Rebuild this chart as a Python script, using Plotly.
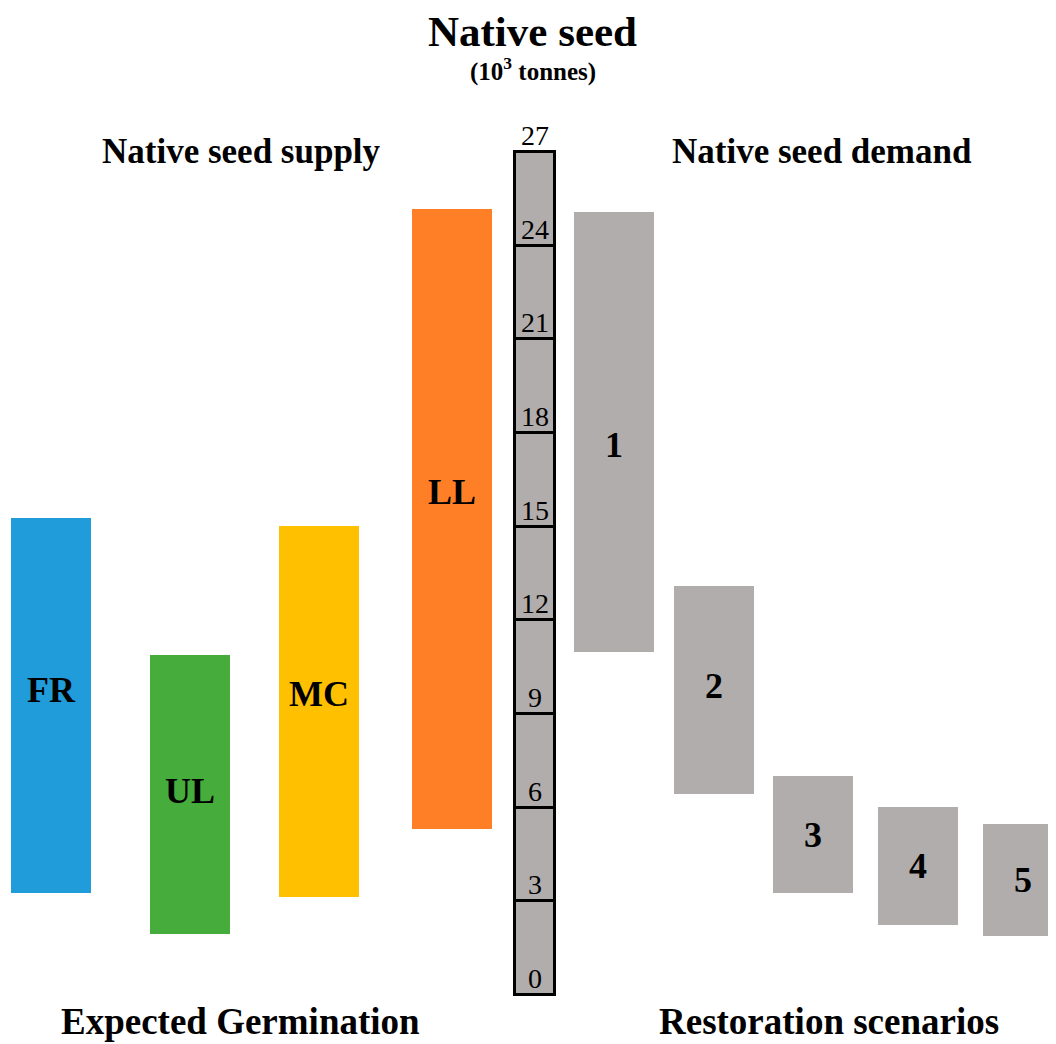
import plotly.graph_objects as go

# ---------------- data ----------------
supply_labels = ["FR", "UL", "MC", "LL"]
supply_low = [3.27, 1.95, 3.14, 5.32]
supply_high = [15.28, 10.89, 15.02, 25.18]

demand_labels = ["1", "2", "3", "4", "5"]
demand_low = [10.99, 6.44, 3.27, 2.24, 1.89]
demand_high = [25.08, 13.10, 7.01, 6.02, 5.48]

scale_ticks = [0, 3, 6, 9, 12, 15, 18, 21, 24, 27]

# ---------------- layout / style (not data) ----------------
PAGE_W, PAGE_H = 1056, 1044
OFF = 8  # default page body margin
W, H = PAGE_W - OFF, PAGE_H - OFF
supply_x = [51, 189.5, 318.5, 451.5]
demand_x = [613.5, 713.5, 812.5, 917.5, 1022.5]
scale_x = 534.5
bar_w = 80
scale_w = 40
supply_colors = ["#1f9cd9", "#46ad3c", "#ffc000", "#ff7f27"]
gray = "#b1adac"
label_shift = [15, 4, 18, 27, -13, 4, 0, 0, 0]  # pixel nudge of in-bar labels

zero_px, px_per_unit = 995, 31.22
y_range = [-(PAGE_H - zero_px) / px_per_unit, (zero_px - OFF) / px_per_unit]

SERIF = "Liberation Serif"

fig = go.Figure()

fig.add_trace(go.Bar(
    x=supply_x,
    y=[h - l for l, h in zip(supply_low, supply_high)],
    base=supply_low,
    width=bar_w,
    marker=dict(color=supply_colors, line=dict(width=0)),
    hoverinfo="skip",
))
fig.add_trace(go.Bar(
    x=demand_x,
    y=[h - l for l, h in zip(demand_low, demand_high)],
    base=demand_low,
    width=bar_w,
    marker=dict(color=gray, line=dict(width=0)),
    hoverinfo="skip",
))
seg_bases = scale_ticks[:-1]
seg_heights = [b - a for a, b in zip(scale_ticks[:-1], scale_ticks[1:])]
fig.add_trace(go.Bar(
    x=[scale_x] * len(seg_bases),
    y=seg_heights,
    base=seg_bases,
    width=scale_w,
    marker=dict(color=gray, line=dict(color="black", width=3)),
    hoverinfo="skip",
))

annotations = []
# tick labels on the scale
for t in scale_ticks:
    annotations.append(dict(
        x=scale_x, y=t, xref="x", yref="y", text=str(t), showarrow=False,
        yanchor="bottom", xanchor="center", yshift=-1,
        font=dict(family=SERIF, size=28, color="black"),
    ))
# in-bar labels
all_x = supply_x + demand_x
all_lab = supply_labels + demand_labels
all_low = supply_low + demand_low
all_high = supply_high + demand_high
for i, (x, lab, lo, hi) in enumerate(zip(all_x, all_lab, all_low, all_high)):
    annotations.append(dict(
        x=x, y=(lo + hi) / 2, xref="x", yref="y", text=f"<b>{lab}</b>",
        showarrow=False, yanchor="middle", xanchor="center", yshift=label_shift[i],
        font=dict(family=SERIF, size=36, color="black"),
    ))


def ptext(text, xpx, ypx, size, yanchor="middle"):
    annotations.append(dict(
        x=(xpx - OFF) / W, y=1 - (ypx - OFF) / H, xref="paper", yref="paper",
        text=text, showarrow=False, xanchor="center", yanchor=yanchor,
        font=dict(family=SERIF, size=size, color="black"),
    ))


ptext("<b>Native seed</b>", 532, 32, 43)
ptext("<b>(10<sup>3</sup> tonnes)</b>", 533, 69, 25)
ptext("<b>Native seed supply</b>", 241, 152, 35)
ptext("<b>Native seed demand</b>", 822, 152, 35)
ptext("<b>Expected Germination</b>", 240, PAGE_H, 37, "bottom")
ptext("<b>Restoration scenarios</b>", 829, PAGE_H, 37, "bottom")

fig.update_layout(
    width=W, height=H,
    margin=dict(l=0, r=0, t=0, b=0),
    paper_bgcolor="white", plot_bgcolor="white",
    showlegend=False, barmode="overlay", bargap=0,
    xaxis=dict(range=[OFF, PAGE_W], visible=False, fixedrange=True),
    yaxis=dict(range=y_range, visible=False, fixedrange=True),
    annotations=annotations,
)

fig.write_html("out.html")
